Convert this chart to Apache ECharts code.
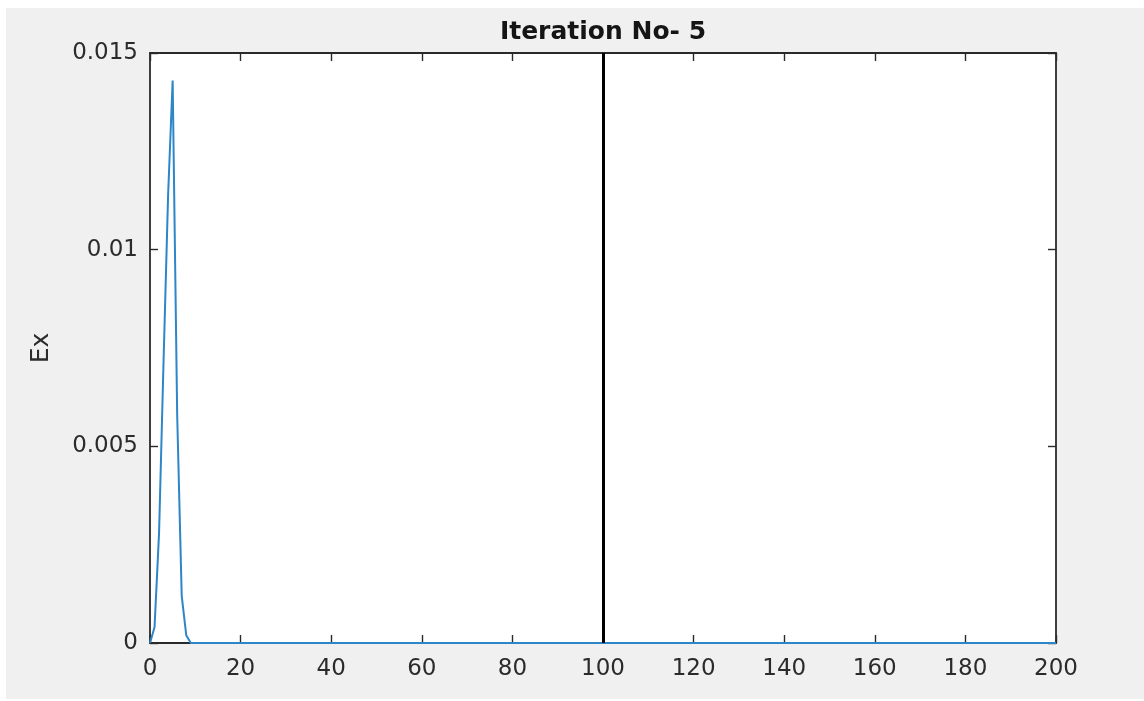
<!DOCTYPE html>
<html>
<head>
<meta charset="utf-8">
<script src="https://cdn.jsdelivr.net/npm/echarts@6/dist/echarts.min.js"></script>
<style>
  html, body { margin: 0; padding: 0; background: #ffffff; }
  #chart { position: absolute; left: 6px; top: 8px; width: 1138px; height: 691px; }
</style>
</head>
<body>
<div id="chart"></div>
<script>
// Field snapshot: Ex along the grid after iteration 5
const titleText = 'Iteration No- 5';
const yAxisName = 'Ex';

// Grid positions and Ex samples (flat zero beyond the pulse)
const xPositions = [0, 1, 2, 3, 4, 5, 6, 7, 8, 9, 200];
const exValues   = [0, 0.0004, 0.0028, 0.0072, 0.0114, 0.0143, 0.0058, 0.0012, 0.0002, 0, 0];

// Source location marked by a vertical line
const sourcePosition = 100;

// Axis ranges and tick steps
const xRange = [0, 200];
const xStep = 20;
const yRange = [0, 0.015];
const yStep = 0.005;

const seriesData = xPositions.map((x, i) => [x, exValues[i]]);

const fontFamily = '"DejaVu Sans", "Liberation Sans", sans-serif';
const axisColor = '#2a2a2a';
const labelColor = '#2b2b2b';

const frameAxis = {
  axisLine: { show: true, onZero: false, lineStyle: { color: axisColor, width: 1.8 } },
  axisTick: { show: true, inside: true, length: 8, lineStyle: { color: axisColor, width: 1.4 } },
  splitLine: { show: false }
};

const chart = echarts.init(document.getElementById('chart'));
chart.setOption({
  backgroundColor: '#f0f0f0',
  animation: false,
  graphic: [{
    type: 'text',
    x: 597,
    y: 24,
    style: {
      text: titleText,
      fill: '#151515',
      font: 'bold 25px ' + fontFamily,
      textAlign: 'center',
      textVerticalAlign: 'middle'
    }
  }],
  grid: {
    left: 144, top: 45, right: 88, bottom: 56,
    show: true, backgroundColor: '#ffffff', borderWidth: 0
  },
  xAxis: [
    Object.assign({
      type: 'value', position: 'bottom',
      min: xRange[0], max: xRange[1], interval: xStep,
      axisLabel: { color: labelColor, fontSize: 23, fontFamily: fontFamily, margin: 15 }
    }, frameAxis),
    Object.assign({
      type: 'value', position: 'top',
      min: xRange[0], max: xRange[1], interval: xStep,
      axisLabel: { show: false }
    }, frameAxis)
  ],
  yAxis: [
    Object.assign({
      type: 'value', position: 'left',
      min: yRange[0], max: yRange[1], interval: yStep,
      name: yAxisName, nameLocation: 'middle', nameGap: 96, nameRotate: 90,
      nameTextStyle: { color: labelColor, fontSize: 25, fontFamily: fontFamily },
      axisLabel: { color: labelColor, fontSize: 23, fontFamily: fontFamily, margin: 12 }
    }, frameAxis),
    Object.assign({
      type: 'value', position: 'right',
      min: yRange[0], max: yRange[1], interval: yStep,
      axisLabel: { show: false }
    }, frameAxis)
  ],
  series: [{
    type: 'line',
    xAxisIndex: 0,
    yAxisIndex: 0,
    data: seriesData,
    showSymbol: false,
    lineStyle: { color: '#2d86c8', width: 2 },
    itemStyle: { color: '#2d86c8' },
    markLine: {
      silent: true,
      symbol: ['none', 'none'],
      label: { show: false },
      lineStyle: { color: '#000000', width: 3, type: 'solid' },
      data: [{ xAxis: sourcePosition }]
    },
    z: 3
  }]
});
</script>
</body>
</html>
